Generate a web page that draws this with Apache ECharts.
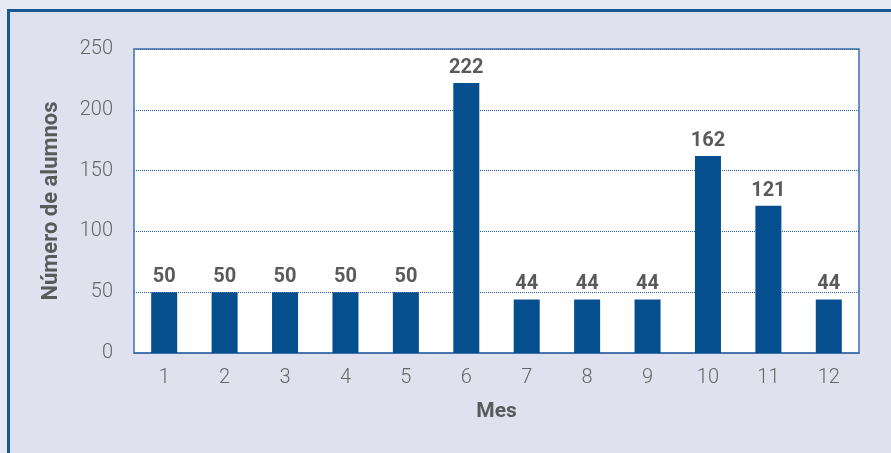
<!DOCTYPE html>
<html>
<head>
<meta charset="utf-8">
<script src="https://cdn.jsdelivr.net/npm/echarts@6/dist/echarts.min.js"></script>
<style>
  html, body { margin: 0; padding: 0; background: #e4ebf4; }
  #chart { width: 891px; height: 453px; }
</style>
</head>
<body>
<div id="chart"></div>
<script>
const months = ['1', '2', '3', '4', '5', '6', '7', '8', '9', '10', '11', '12'];
const alumnos = [50, 50, 50, 50, 50, 222, 44, 44, 44, 162, 121, 44];
const yTicks = [0, 50, 100, 150, 200, 250];

const bar_blue = '#064f8f';
const text_grey = '#5a5a5a';

const chart = echarts.init(document.getElementById('chart'));
chart.setOption({
    backgroundColor: 'transparent',
    animation: false,
    textStyle: { fontFamily: 'Roboto' },
    graphic: [
        {
            type: 'rect',
            z: -10,
            silent: true,
            shape: { x: 8.5, y: 10.5, width: 900, height: 460 },
            style: { fill: '#dfe1ee', stroke: '#1b5796', lineWidth: 3 },
        },
    ],
    grid: {
        left: 134,
        right: 32,
        top: 49,
        bottom: 100,
        show: true,
        backgroundColor: '#ffffff',
        borderColor: '#3f70aa',
        borderWidth: 1.5,
    },
    xAxis: {
        type: 'category',
        data: months,
        name: 'Mes',
        nameLocation: 'middle',
        nameGap: 48,
        nameTextStyle: { color: text_grey, fontSize: 21, fontWeight: 'bold' },
        axisLine: { show: true, lineStyle: { color: '#3f70aa', width: 1.5 } },
        axisTick: { show: false },
        axisLabel: { color: '#666', fontSize: 20, fontWeight: 300, margin: 15 },
    },
    yAxis: {
        type: 'value',
        min: yTicks[0],
        max: yTicks[yTicks.length - 1],
        interval: 50,
        name: 'Número de alumnos',
        nameLocation: 'middle',
        nameGap: 72,
        nameTextStyle: { color: text_grey, fontSize: 22, fontWeight: 'bold' },
        axisLine: { show: false },
        axisTick: { show: false },
        axisLabel: { color: '#666', fontSize: 20, fontWeight: 300, margin: 21 },
        splitLine: { show: true, lineStyle: { color: '#2a5e9a', type: 'dotted', width: 1 } },
    },
    series: [
        {
            name: 'Alumnos',
            type: 'bar',
            data: alumnos,
            barWidth: 26,
            itemStyle: { color: bar_blue },
            label: {
                show: true,
                position: 'top',
                distance: 5,
                color: text_grey,
                fontSize: 20,
                fontWeight: 'bold',
            },
        },
    ],
});
</script>
</body>
</html>
